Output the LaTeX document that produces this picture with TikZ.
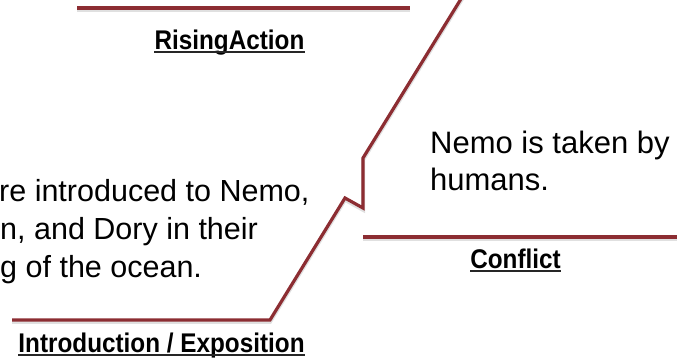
\documentclass[tikz,border=0pt]{standalone}
\usepackage{fontspec}
\setmainfont{Liberation Sans}
\newfontface\partfont{Liberation Sans Bold}[FakeStretch=0.9]
\definecolor{plotred}{RGB}{140,45,50}
\tikzset{
  plotline/.style={draw=plotred, line width=3.2pt, line join=miter,
    preaction={draw=black!30, opacity=.4, line width=4pt,
      transform canvas={yshift=-1.8pt}}},
  part/.style={inner sep=0pt, anchor=base, font=\partfont\fontsize{27}{30}\selectfont},
  uline/.style={draw=black!85, line width=1.4pt},
  story/.style={inner sep=0pt, anchor=base west},
}

\begin{document}
\begin{tikzpicture}[x=1pt,y=-1pt]
\useasboundingbox (0,0) rectangle (680,357);
% points of the plot line
\coordinate (expoL) at (12,320);
\coordinate (expoR) at (270,320);
\coordinate (jagA) at (345,198);
\coordinate (jagB) at (363,208);
\coordinate (jagC) at (363,158);
\coordinate (peak) at (464,-6);
\coordinate (risingL) at (77,8);
\coordinate (risingR) at (410,8);
\coordinate (conflictL) at (363,237);
\coordinate (conflictR) at (677,237);

\path [plotline] (expoL) -- (expoR) -- (jagA) -- (jagB) -- (jagC) -- (peak);
\path [plotline] (risingL) -- (risingR);
\path [plotline] (conflictL) -- (conflictR);

% part names
\node [part] (rising) at (229.5,49) {RisingAction};
\node [part] (conflict) at (515.5,268) {Conflict};
\node [part] (expo) at (161.5,352) {Introduction / Exposition};
\foreach \n in {rising,conflict,expo}
  \draw [uline] ([yshift=-3pt]\n.base west) -- ([yshift=-3pt]\n.base east);

% story text
\begin{scope}[every node/.append style={font=\fontsize{30.5}{36}\selectfont}]
\node [story] (intro1) at (-1,201) {re introduced to Nemo,};
\node [story] (intro2) at (0,239) {n, and Dory in their};
\node [story] (intro3) at (0,277) {g of the ocean.};
\end{scope}
\begin{scope}[every node/.append style={font=\fontsize{31}{36}\selectfont}]
\node [story] (taken) at (430,153) {Nemo is taken by};
\node [story] (humans) at (430,190) {humans.};
\end{scope}
\end{tikzpicture}
\end{document}
